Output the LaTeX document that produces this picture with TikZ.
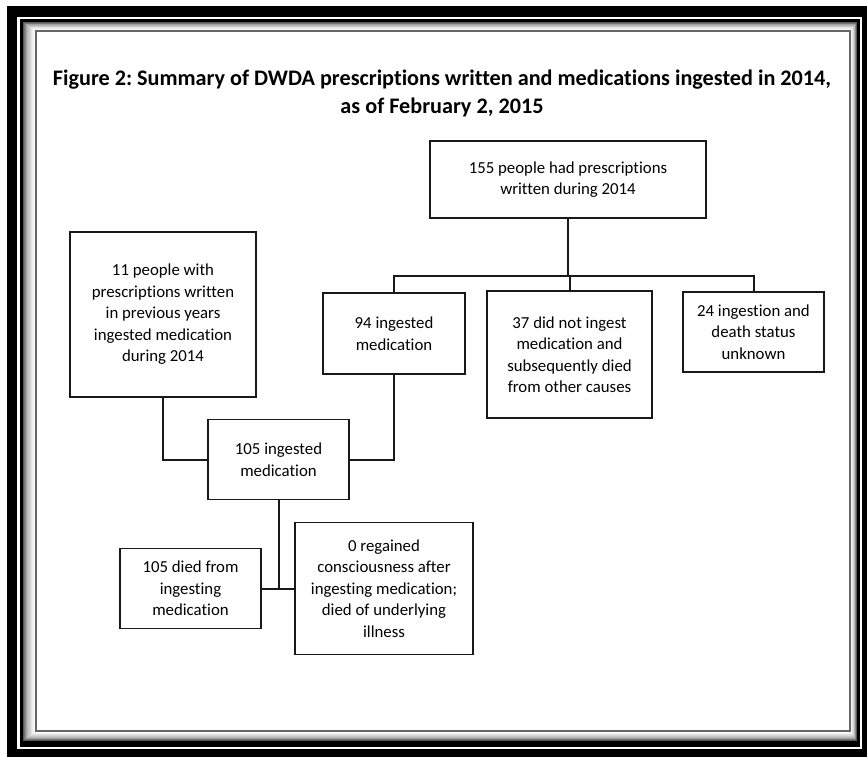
\documentclass[tikz,border=0pt]{standalone}
\usepackage{fontspec}
\setmainfont{Carlito}[Ligatures=NoCommon]
\frenchspacing
\begin{document}
\begin{tikzpicture}[x=1pt,y=-1pt,
  box/.style={draw=black!90, line width=1.8pt, align=center, inner sep=0pt,
    font=\fontsize{16.8}{21.5}\selectfont},
  conn/.style={draw=black!90, line width=2pt}]
\useasboundingbox (0,0) rectangle (867,756);
% frame
\fill[black] (7,6) rectangle (870,760);
\fill[white] (17,16.5) rectangle (862,749);
\fill[black] (19.5,18.5) rectangle (860,747);
\foreach \i in {0,...,12}{
  \pgfmathsetmacro\t{\i/12}
  \pgfmathsetmacro\s{65*(1-\t)*(1-\t)}
  \fill[black!\s] (23+13*\t,22+9*\t) rectangle (857-7*\t,741-10*\t);
}
\fill[white] (36,31) rectangle (850,731);
\draw[black!60, line width=1.5pt] (36,31) rectangle (850,731);
% title
\node[align=center, font=\fontsize{22.2}{28}\selectfont\bfseries] (title) at (442,93)
  {Figure 2: Summary of DWDA prescriptions written and medications ingested in 2014,\\as of February 2, 2015};
% boxes
\node[box, minimum width=276, minimum height=77] (top) at (568,179.5) {155 people had prescriptions\\written during 2014};
\node[box, minimum width=142, minimum height=81] (b94) at (394,333.5) {94 ingested\\medication};
\node[box, minimum width=165, minimum height=127] (b37) at (569.5,354.5) {37 did not ingest\\medication and\\subsequently died\\from other causes};
\node[box, minimum width=141, minimum height=80] (b24) at (753.5,332) {24 ingestion and\\death status\\unknown};
\node[box, minimum width=186, minimum height=165] (b11) at (163,314.5) {11 people with\\prescriptions written\\in previous years\\ingested medication\\during 2014};
\node[box, minimum width=141, minimum height=80] (b105) at (278.5,459.5) {105 ingested\\medication};
\node[box, minimum width=141, minimum height=80] (bdied) at (190.5,588.5) {105 died from\\ingesting\\medication};
\node[box, minimum width=178, minimum height=132] (b0) at (384,588.5) {0 regained\\consciousness after\\ingesting medication;\\died of underlying\\illness};
% connectors
\coordinate (bus) at (568,275.5);
\draw[conn] (top.south) -- (bus);
\draw[conn] (b94.north) -- (b94.north |- bus) -- (b24.north |- bus) -- (b24.north);
\draw[conn] (b37.north) -- (b37.north |- bus);
\draw[conn] (b11.south) |- (b105.west);
\draw[conn] (b94.south) |- (b105.east);
\draw[conn] (bdied.east) -- (b0.west);
\draw[conn] (b105.south) -- (b105.south |- b0.west);
\end{tikzpicture}
\end{document}
